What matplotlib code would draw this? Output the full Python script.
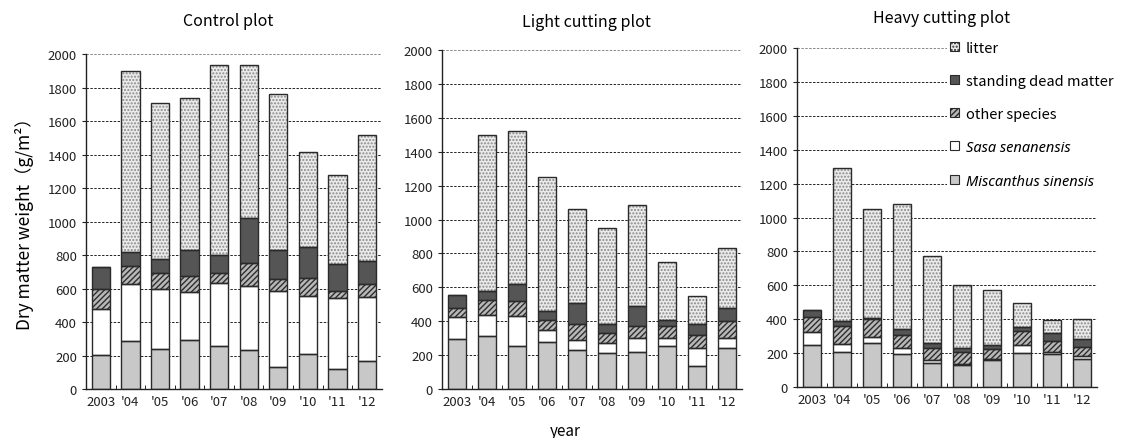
import matplotlib.pyplot as plt
import numpy as np

plt.rcParams['font.family'] = ['Noto Sans CJK JP', 'DejaVu Sans']

years = ['2003', "'04", "'05", "'06", "'07", "'08", "'09", "'10", "'11", "'12"]
titles = ['Control plot', 'Light cutting plot', 'Heavy cutting plot']
components = ['Miscanthus sinensis', 'Sasa senanensis', 'other species',
              'standing dead matter', 'litter']

# g/m2 per component, bottom to top
control_misc = [205, 285, 240, 295, 255, 230, 133, 212, 122, 165]
control_sasa = [270, 343, 355, 285, 377, 388, 455, 341, 423, 383]
control_other = [125, 107, 95, 95, 58, 132, 70, 110, 40, 77]
control_dead = [130, 85, 85, 153, 112, 272, 170, 182, 163, 140]
control_litter = [0, 1080, 935, 912, 1130, 910, 932, 570, 527, 750]

light_misc = [295, 314, 251, 275, 232, 210, 216, 251, 134, 242]
light_sasa = [127, 124, 181, 71, 59, 59, 83, 48, 106, 61]
light_other = [59, 89, 87, 63, 92, 59, 74, 74, 78, 100]
light_dead = [73, 49, 100, 49, 124, 57, 114, 34, 67, 76]
light_litter = [0, 923, 904, 793, 554, 568, 597, 345, 165, 356]

heavy_misc = [250, 206, 261, 196, 141, 132, 157, 202, 196, 163]
heavy_sasa = [74, 49, 34, 34, 20, 6, 6, 48, 10, 18]
heavy_other = [87, 103, 108, 75, 69, 68, 59, 78, 65, 55]
heavy_dead = [41, 33, 6, 39, 31, 24, 28, 26, 47, 45]
heavy_litter = [0, 902, 642, 733, 511, 369, 320, 143, 75, 122]

plots = [
    [control_misc, control_sasa, control_other, control_dead, control_litter],
    [light_misc, light_sasa, light_other, light_dead, light_litter],
    [heavy_misc, heavy_sasa, heavy_other, heavy_dead, heavy_litter],
]

# face, hatch, hatch colour
styles = [
    ('#c8c8c8', None, '#c8c8c8'),
    ('white', None, 'white'),
    ('#b8b8b8', '//////', '#2e2e2e'),
    ('#555555', None, '#555555'),
    ('#ebebeb', '.....', '#8a8a8a'),
]

fig = plt.figure(figsize=(11.25, 4.39), dpi=100)
boxes = [
    [0.0764, 0.1116, 0.263, 0.763],
    [0.3929, 0.1116, 0.2667, 0.772],
    [0.7084, 0.1162, 0.2667, 0.772],
]
title_y = [0.952, 0.948, 0.958]

x = np.arange(len(years))
w = 0.62
axes = []
for i, (box, data) in enumerate(zip(boxes, plots)):
    ax = fig.add_axes(box)
    axes.append(ax)
    bottom = np.zeros(len(years))
    handles = []
    for vals, (fc, hatch, hc), name in zip(data, styles, components):
        vals = np.array(vals, dtype=float)
        ax.bar(x, vals, w, bottom=bottom, color=fc, hatch=hatch,
               edgecolor=hc, linewidth=0, zorder=2)
        ax.bar(x, vals, w, bottom=bottom, fill=False,
               edgecolor='#2a2a2a', linewidth=1.0, zorder=3)
        h = plt.Rectangle((0, 0), 1, 1, facecolor=fc, hatch=hatch,
                          edgecolor='#2a2a2a', linewidth=0.8)
        handles.append((h, name))
        bottom += vals

    ax.set_xlim(-0.5, len(years) - 0.5)
    ax.set_ylim(0, 2000)
    ax.set_yticks(np.arange(0, 2001, 200))
    for yv in range(200, 2001, 200):
        ax.axhline(yv, color='#888888' if yv == 2000 else '#222222',
                   linestyle=(0, (2.5, 1.5)), linewidth=0.7, zorder=1)
    ax.set_xticks(x)
    ax.set_xticklabels(years)
    ax.set_xticks(x[:-1] + 0.5, minor=True)
    ax.tick_params(axis='x', which='major', length=0, labelsize=9.5, pad=4)
    ax.tick_params(axis='x', which='minor', length=3, direction='in')
    ax.tick_params(axis='y', length=3, labelsize=9.5, colors='#222222')
    ax.tick_params(axis='x', colors='#222222')
    for s in ['top', 'right']:
        ax.spines[s].set_visible(False)
    for s in ['left', 'bottom']:
        ax.spines[s].set_linewidth(1.0)
        ax.spines[s].set_color('#222222')
    fig.text(box[0] + box[2] / 2 - 0.005, title_y[i], titles[i],
             ha='center', va='center', fontsize=11.5)

# legend in heavy cutting panel (top to bottom: litter first)
ax3 = axes[2]
hs = [h for h, n in handles][::-1]
ns = [n for h, n in handles][::-1]
leg = ax3.legend(hs, ns, loc='upper left', bbox_to_anchor=(0.5, 1.03),
                 frameon=True, facecolor='white', edgecolor='none',
                 framealpha=1, fontsize=10.5, handlelength=0.6,
                 handleheight=0.6, handletextpad=0.5, labelspacing=1.3,
                 borderpad=0.2, borderaxespad=0)
leg.set_zorder(5)
for t in leg.get_texts()[3:]:
    t.set_family(['Noto Sans', 'DejaVu Sans'])
    t.set_style('italic')

fig.text(0.022, 0.5, 'Dry matter weight（g/m²）', rotation=90,
         ha='center', va='center', fontsize=12.5)
fig.text(0.502, 0.016, 'year', ha='center', va='center', fontsize=11)

fig.savefig('out.png', dpi=100)
